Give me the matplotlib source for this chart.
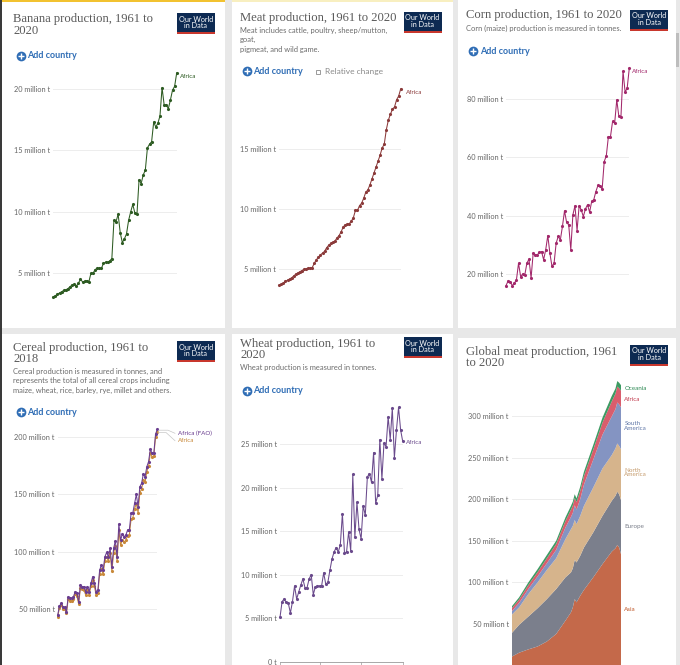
import matplotlib.pyplot as plt
from matplotlib.patches import Rectangle
from matplotlib.lines import Line2D

W, H = 680, 665

# ---- data (million tonnes) ----
YEARS = list(range(1961, 2021))
CEREAL_YEARS = list(range(1961, 2019))

banana_africa = [3.1, 3.15, 3.3, 3.4, 3.5, 3.6, 3.65, 3.75, 3.9, 4.05,
                 4.1, 3.95, 4.2, 4.5, 4.3, 4.35, 4.4, 4.3, 5.0, 5.0,
                 5.3, 5.4, 5.4, 5.4, 5.8, 5.9, 5.9, 6.0, 6.2, 9.3,
                 9.2, 9.8, 8.3, 7.5, 7.8, 8.2, 9.3, 10.0, 10.6, 9.9,
                 9.8, 12.6, 12.3, 13.0, 13.4, 15.2, 15.5, 15.7, 17.3, 16.9,
                 17.2, 17.8, 20.1, 18.7, 18.7, 18.4, 19.1, 19.9, 20.2, 21.3]

meat_africa = [3.7, 3.75, 3.85, 4.0, 4.1, 4.2, 4.3, 4.45, 4.6, 4.7,
               4.8, 4.9, 5.0, 5.05, 5.1, 5.1, 5.15, 5.5, 5.8, 6.0,
               6.2, 6.35, 6.5, 6.8, 7.0, 7.15, 7.25, 7.35, 7.6, 7.8,
               8.1, 8.5, 8.7, 8.75, 8.8, 9.0, 9.3, 9.9, 9.9, 10.3,
               10.5, 10.9, 11.4, 11.6, 12.0, 12.5, 13.0, 13.5, 14.0, 14.5,
               15.1, 15.4, 16.6, 17.4, 17.9, 18.3, 18.5, 19.1, 19.4, 20.0]

corn_africa = [16.0, 17.6, 17.4, 16.0, 16.8, 18.0, 23.7, 19.1, 20.0, 19.7,
               23.7, 25.1, 18.6, 27.1, 26.6, 26.6, 27.4, 27.7, 24.9, 28.3,
               33.2, 27.1, 22.6, 23.7, 30.6, 32.9, 31.7, 36.3, 41.7, 37.7,
               36.9, 28.3, 40.3, 43.4, 34.9, 43.4, 42.0, 39.7, 42.3, 43.8,
               41.2, 44.9, 45.5, 48.3, 50.4, 50.3, 49.1, 58.6, 60.6, 67.2,
               67.2, 72.4, 71.8, 79.8, 74.1, 73.9, 89.6, 82.4, 83.9, 90.7]

cereal_africa_fao = [44.4, 52.2, 54.6, 51.6, 51.1, 47.3, 60.4, 58.9, 58.9, 60.4,
                     64.8, 63.3, 56.0, 70.6, 69.2, 69.2, 64.8, 69.2, 64.8, 72.1,
                     77.9, 72.1, 64.8, 66.2, 83.7, 88.1, 83.7, 95.4, 99.2, 95.4,
                     102.7, 86.7, 102.7, 109.4, 95.4, 124.0, 110.0, 115.3, 112.9, 114.4,
                     118.8, 118.8, 133.4, 133.9, 142.1, 150.0, 139.2, 156.7, 159.6, 167.8,
                     165.5, 174.2, 178.6, 189.4, 185.9, 185.9, 202.8, 206.9]
cereal_africa = [43.0, 50.5, 52.8, 50.0, 49.5, 45.8, 58.2, 56.8, 57.0, 58.3,
                 62.5, 61.0, 54.0, 68.0, 66.8, 66.5, 62.0, 66.5, 62.0, 69.5,
                 75.0, 69.5, 62.0, 63.5, 80.5, 85.0, 80.0, 92.0, 95.5, 91.5,
                 98.5, 83.0, 98.5, 105.0, 91.5, 118.5, 105.5, 110.5, 108.0, 110.0,
                 114.0, 114.5, 128.5, 129.5, 137.5, 142.0, 134.0, 151.5, 154.5, 162.5,
                 160.5, 170.0, 174.5, 186.0, 183.0, 183.5, 200.5, 204.5]

wheat_africa = [5.1, 6.9, 7.2, 6.8, 6.7, 5.6, 6.9, 8.7, 7.2, 8.0,
                8.8, 9.5, 8.5, 8.5, 9.5, 10.0, 7.7, 8.6, 8.7, 8.7,
                8.7, 10.2, 8.9, 9.1, 10.5, 11.8, 12.6, 13.1, 12.6, 13.4,
                17.0, 12.5, 12.6, 14.9, 12.7, 21.5, 14.3, 18.3, 15.2, 14.1,
                17.9, 16.8, 21.2, 21.6, 20.6, 24.0, 18.2, 19.1, 25.5, 21.0,
                25.1, 24.7, 28.1, 25.5, 29.1, 23.4, 26.6, 29.2, 26.6, 25.3]

GLOBAL_YEARS = [1961, 1965, 1970, 1975, 1980, 1985, 1990, 1993, 1994, 1995,
                1996, 1998, 2000, 2005, 2010, 2015, 2017, 2018, 2019, 2020]
meat_asia = [10.7, 15.5, 19.5, 23, 29, 38, 54, 64, 70, 80,
             76, 84, 91, 106, 122, 137, 141, 145, 142, 134]
meat_europe = [28.3, 33.5, 39.5, 46, 51, 54, 52, 48, 47, 47,
               48, 48, 51, 54, 58, 61, 63, 64, 64, 65]
meat_north_america = [22, 21, 27, 31, 35, 37, 46, 52, 51, 48,
                      46, 48, 50, 54, 57, 55, 57, 58, 58, 61]
meat_south_america = [4.1, 5.3, 6.1, 7.3, 8.1, 10.1, 13.9, 14.8, 15.7, 17.7,
                      17.5, 20.1, 25.5, 33.4, 40.5, 46.5, 47.2, 49.3, 49.9, 50.5]
meat_africa_region = [3.6, 4.1, 4.7, 5.1, 6.0, 7.0, 7.8, 8.7, 8.8, 8.8,
                      9.0, 9.9, 10.3, 12.0, 14.5, 17.9, 18.5, 19.1, 19.4, 20.0]
meat_oceania = [2.3, 2.6, 3.2, 3.6, 3.9, 3.9, 4.3, 4.5, 4.6, 4.5,
                4.5, 5.0, 5.2, 5.6, 6.0, 6.6, 6.3, 6.6, 6.7, 6.5]
REGIONS = ["Asia", "Europe", "North\nAmerica", "South\nAmerica", "Africa", "Oceania"]
REGION_COLORS = ["#c4694a", "#7b7f8c", "#d6b48c", "#8494c2", "#d95d6d", "#3c9a62"]
REGION_TEXT = ["#c0592b", "#7a7f8a", "#c59b6c", "#6077a8", "#c23b4e", "#2f8a55"]

SANS = "Lato"
SERIF = "Liberation Serif"

fig = plt.figure(figsize=(W / 100, H / 100), dpi=100)
fig.patch.set_facecolor("#e8e8e8")


def fx(x):
    return x / W


def fy(y):
    return 1 - y / H


def rect(x0, y0, x1, y1, color, z=-1):
    fig.patches.append(Rectangle((fx(x0), fy(y1)), (x1 - x0) / W, (y1 - y0) / H,
                                 transform=fig.transFigure, facecolor=color,
                                 edgecolor="none", zorder=z))


def text(x, y, s, **kw):
    kw.setdefault("family", SANS)
    kw.setdefault("va", "center")
    fig.text(fx(x), fy(y), s, **kw)


def logo(x0, y0, w=38, h=21):
    rect(x0, y0, x0 + w, y0 + h, "#0d2a52", z=2)
    rect(x0, y0 + h - 2, x0 + w, y0 + h, "#c8372d", z=3)
    text(x0 + w / 2, y0 + 6, "Our World", ha="center", color="white", fontsize=5.2, zorder=4)
    text(x0 + w / 2, y0 + 12.8, "in Data", ha="center", color="white", fontsize=5.2, zorder=4)


def add_country(x, y):
    for marker, ms, col, mew in [("o", 7, "#2f6db5", 0), ("+", 3.8, "white", 1.0)]:
        fig.lines.append(Line2D([fx(x)], [fy(y)], marker=marker, ms=ms, color=col, mew=mew,
                                transform=fig.transFigure, zorder=5))
    text(x + 6.8, y, "Add country", color="#2f6db5", fontsize=6.5, weight="bold")


def title(x, y, lines, size=9.1):
    for i, s in enumerate(lines):
        text(x, y + i * 11.5, s, family=SERIF, color="#5a5a5a", fontsize=size)


def subtitle(x, y, lines, step=9.3):
    for i, s in enumerate(lines):
        text(x, y + i * step, s, color="#6b6b6b", fontsize=5.4)


def line_axes(x0, x1, year0, year1, zero_px, px_per_unit, top_px, ticks):
    ax = fig.add_axes([fx(x0), fy(zero_px), (x1 - x0) / W, (zero_px - top_px) / H])
    ax.set_xlim(year0, year1)
    ax.set_ylim(0, (zero_px - top_px) / px_per_unit)
    ax.patch.set_alpha(0)
    for s in ax.spines.values():
        s.set_visible(False)
    ax.set_xticks([])
    ax.set_yticks(ticks)
    ax.set_yticklabels([f"{t} million t" for t in ticks], family=SANS)
    ax.tick_params(axis="y", length=0, pad=2.2, labelsize=5.3, labelcolor="#666666")
    ax.grid(axis="y", color="#d6d6d6", linestyle=(0, (1.2, 1.2)), linewidth=0.6)
    ax.set_axisbelow(True)
    return ax


def draw_series(ax, years, values, color):
    ax.plot(years, values, color=color, lw=0.75, marker="o", ms=1.25, clip_on=False, zorder=3)


# ---- panel backgrounds ----
rect(2, 0, 225, 328, "white")
rect(232, 0, 453, 328, "white")
rect(458, 0, 676, 328, "white")
rect(2, 334, 225, 665, "white")
rect(232, 334, 453, 665, "white")
rect(458, 338, 676, 665, "white")
rect(0, 0, 1.5, 665, "#3a3a3a", z=1)
rect(2, 0, 225, 1.8, "#f2c230", z=1)
rect(232, 0, 453, 1.8, "#f8efc0", z=1)
rect(676, 33, 678.5, 67, "#bdbdbd", z=1)

# ---- Banana ----
title(13, 19, ["Banana production, 1961 to", "2020"])
logo(177, 13)
add_country(20.7, 56)
ax = line_axes(53.3, 176.7, 1961, 2020, 334.7, 12.29, 60, [5, 10, 15, 20])
draw_series(ax, YEARS, banana_africa, "#2d5b22")
text(180, 76.5, "Africa", color="#2d5b22", fontsize=4.5)

# ---- Meat (Africa) ----
title(240, 18, ["Meat production, 1961 to 2020"])
subtitle(240, 30.5, ["Meat includes cattle, poultry, sheep/mutton,", "goat,", "pigmeat, and wild game."])
logo(403.5, 12)
add_country(246.7, 71)
fig.lines.append(Line2D([fx(317.7)], [fy(71.7)], marker="s", ms=3.2, mfc="none", mec="#8a8a8a",
                        mew=0.6, transform=fig.transFigure))
text(325, 71.3, "Relative change", color="#8a8a8a", fontsize=6)
ax = line_axes(279.3, 400.7, 1961, 2020, 329.5, 12.03, 80, [5, 10, 15])
draw_series(ax, YEARS, meat_africa, "#8b3a3a")
text(405.5, 92.3, "Africa", color="#8b3a3a", fontsize=4.5)

# ---- Corn ----
title(466, 15, ["Corn production, 1961 to 2020"])
subtitle(466, 28.3, ["Corn (maize) production is measured in tonnes."])
logo(630, 9.5)
add_country(473.3, 51)
ax = line_axes(506, 629.3, 1961, 2020, 332.2, 2.912, 60, [20, 40, 60, 80])
draw_series(ax, YEARS, corn_africa, "#a2286b")
text(631.5, 71.7, "Africa", color="#a2286b", fontsize=4.5)

# ---- Cereal ----
title(13, 347.5, ["Cereal production, 1961 to", "2018"])
subtitle(13, 371.7, ["Cereal production is measured in tonnes, and",
                     "represents the total of all cereal crops including",
                     "maize, wheat, rice, barley, rye, millet and others."])
logo(177, 341)
add_country(20.7, 412.3)
ax = line_axes(57.7, 157.3, 1961, 2018, 665.8, 1.1427, 420, [50, 100, 150, 200])
draw_series(ax, CEREAL_YEARS, cereal_africa, "#c8893a")
draw_series(ax, CEREAL_YEARS, cereal_africa_fao, "#6a3d8f")
for pts in ([(158.5, 430.2), (168, 430.2), (175, 433.3)], [(158.5, 432.5), (166, 432.5), (175, 440.7)]):
    fig.lines.append(Line2D([fx(p[0]) for p in pts], [fy(p[1]) for p in pts], color="#c8c8c8",
                            lw=0.5, transform=fig.transFigure))
text(178, 433.3, "Africa (FAO)", color="#6a3d8f", fontsize=4.5)
text(178, 440.7, "Africa", color="#c8893a", fontsize=4.5)

# ---- Wheat ----
title(240, 344, ["Wheat production, 1961 to", "2020"])
subtitle(240, 367.7, ["Wheat production is measured in tonnes."])
logo(403.5, 337)
add_country(246.7, 390.7)
ax = line_axes(280, 402.7, 1961, 2020, 661.7, 8.71, 400, [0, 5, 10, 15, 20, 25])
ax.set_yticklabels(["0 t"] + [f"{t} million t" for t in [5, 10, 15, 20, 25]], family=SANS)
ax.spines["bottom"].set_visible(True)
ax.spines["bottom"].set_color("#9a9a9a")
ax.spines["bottom"].set_linewidth(0.6)
ax.set_xticks([1961, 1980, 2000, 2020])
ax.set_xticklabels([])
ax.tick_params(axis="x", length=3, width=0.5, color="#9a9a9a")
draw_series(ax, YEARS, wheat_africa, "#6a4a8c")
text(405.5, 442.3, "Africa", color="#6a4a8c", fontsize=4.5)

# ---- Global meat (stacked) ----
title(466, 351.7, ["Global meat production, 1961", "to 2020"])
logo(630, 344.5)
ax = line_axes(511.7, 621, 1961, 2020, 665.6, 0.832, 375, [50, 100, 150, 200, 250, 300])
ax.stackplot(GLOBAL_YEARS, meat_asia, meat_europe, meat_north_america,
             meat_south_america, meat_africa_region, meat_oceania,
             colors=REGION_COLORS, lw=0, zorder=2)
label_y = [609.3, 526.7, 472.5, 426.3, 399.3, 388.3]
for name, col, y in zip(REGIONS, REGION_TEXT, label_y):
    text(624.3, y, name, color=col, fontsize=4.5, linespacing=0.95)

fig.savefig("out.png", dpi=100, facecolor=fig.get_facecolor())
